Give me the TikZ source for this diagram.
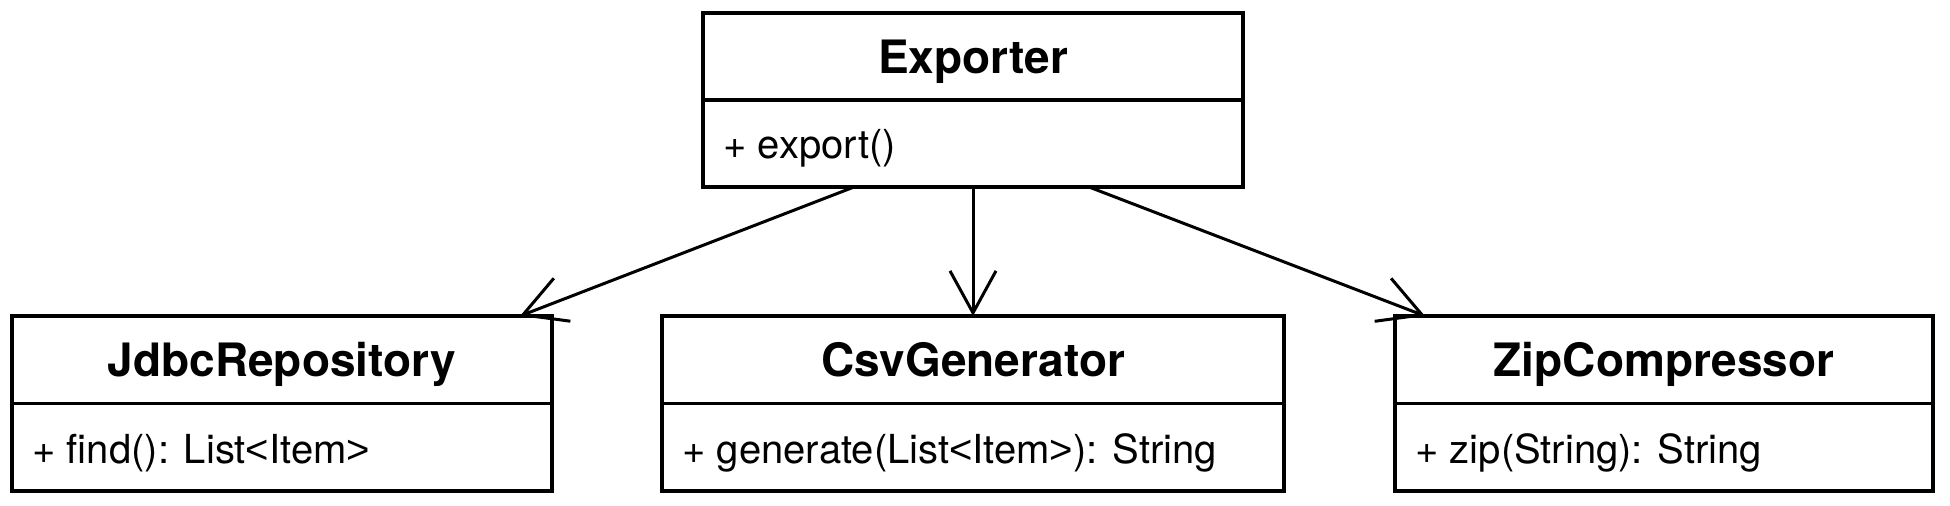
\documentclass[tikz,border=0pt]{standalone}
\usepackage{fontspec}
\setmainfont{TeX Gyre Heros}
\newfontfamily\ltfont{Liberation Sans}
\newcommand{\ltsym}{{\ltfont<}}
\newcommand{\gtsym}{{\ltfont>}}
\usetikzlibrary{arrows.meta}
\begin{document}
\begin{tikzpicture}[x=0.5pt,y=-0.5pt,
  cls/.style={draw, line width=1.6pt, rectangle, inner sep=0pt, outer sep=0pt, minimum height=87.5pt},
  ttl/.style={anchor=base, font=\fontsize{23}{26}\selectfont\bfseries, inner sep=0pt},
  mth/.style={anchor=base west, font=\fontsize{20}{24}\selectfont, inner sep=0pt},
  divider/.style={line width=1.6pt},
  dep/.style={line width=1.5pt, -{Straight Barb[length=21pt, width=23pt, line width=1.5pt]}}
]
\useasboundingbox (0,0) rectangle (1950,505);

% classes
\node[cls, minimum width=270pt, minimum height=87pt] (exp) at (973,100) {};
\node[cls, minimum width=270pt] (jdbc) at (282,403.5) {};
\node[cls, minimum width=311pt] (csv) at (973,403.5) {};
\node[cls, minimum width=269pt] (zip) at (1664,403.5) {};

% dividers
\draw[divider] (exp.west) -- (exp.east);
\draw[divider] (jdbc.west) -- (jdbc.east);
\draw[divider] (csv.west) -- (csv.east);
\draw[divider] (zip.west) -- (zip.east);

% titles
\node[ttl] (expT) at ([yshift=13.5pt]exp.center) {Exporter};
\node[ttl] (jdbcT) at ([yshift=13.75pt]jdbc.center) {JdbcRepository};
\node[ttl] (csvT) at ([yshift=13.75pt]csv.center) {CsvGenerator};
\node[ttl] (zipT) at ([yshift=13.75pt]zip.center) {ZipCompressor};

% methods
\node[mth] (expM) at ([xshift=10pt,yshift=-29pt]exp.west) {+ export()};
\node[mth] (jdbcM) at ([xshift=10pt,yshift=-29.75pt]jdbc.west) {+ find(): List\ltsym Item\gtsym};
\node[mth] (csvM) at ([xshift=10pt,yshift=-29.75pt]csv.west) {+ generate(List\ltsym Item\gtsym): String};
\node[mth] (zipM) at ([xshift=10pt,yshift=-29.75pt]zip.west) {+ zip(String): String};

% dependencies
\draw[dep] ([xshift=-59.5pt]exp.south) -- ([xshift=119pt]jdbc.north);
\draw[dep] (exp.south) -- (csv.north);
\draw[dep] ([xshift=58pt]exp.south) -- ([xshift=-119.5pt]zip.north);
\end{tikzpicture}
\end{document}
